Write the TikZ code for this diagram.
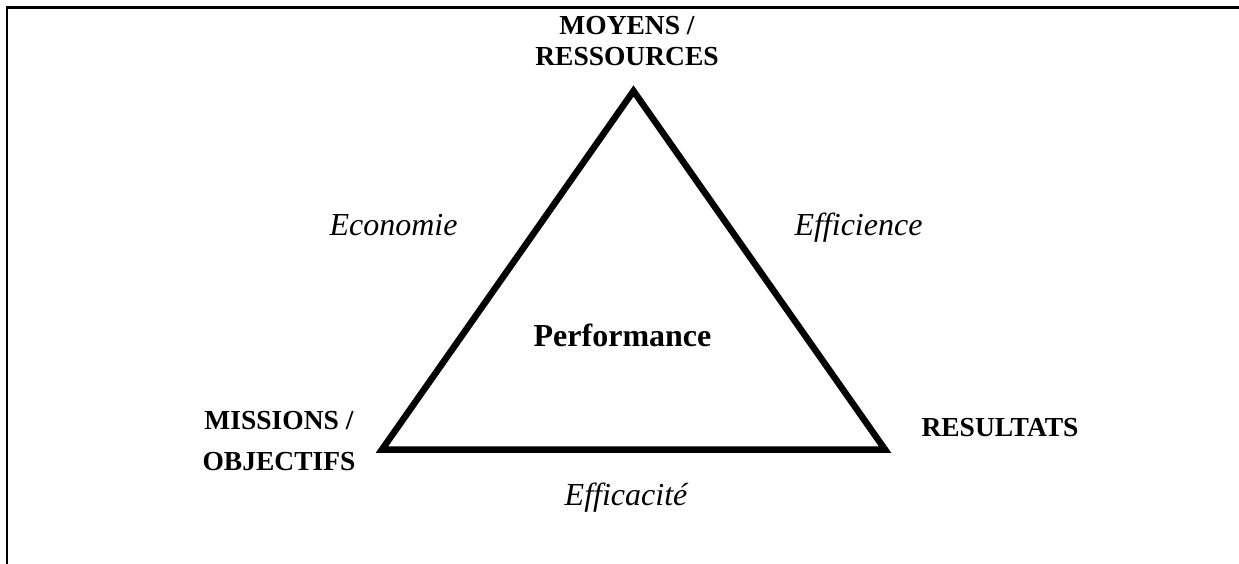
\documentclass[tikz,border=0pt]{standalone}
\usepackage{fontspec}
\setmainfont{Liberation Serif}
\begin{document}
\begin{tikzpicture}[x=1pt,y=-1pt,
  vlabel/.style={inner sep=0pt,anchor=base,align=center,
    font=\bfseries\fontsize{27.5}{31}\selectfont},
  relabel/.style={inner sep=0pt,anchor=base,
    font=\itshape\fontsize{32}{38}\selectfont},
  centre/.style={inner sep=0pt,anchor=base,
    font=\bfseries\fontsize{32}{38}\selectfont},
  frame/.style={line width=2.4pt},
  tri/.style={line width=6.5pt,line join=miter}]
\useasboundingbox (0,0) rectangle (1239,564);
% frame
\coordinate (fb) at (7,564);
\coordinate (fc) at (7,7.5);
\coordinate (fr) at (1239,7.5);
\draw[frame] (fb) -- (fc) -- (fr);
% triangle
\coordinate (A) at (633.5,91);
\coordinate (B) at (382,449.5);
\coordinate (C) at (885,449.5);
\draw[tri] (A) -- (B) -- (C) -- cycle;
% vertex labels (base = last line)
\node[vlabel] (moy) at (627,66) {MOYENS /\\RESSOURCES};
\node[vlabel] (mis) at (279,470) {MISSIONS /\\[10pt]OBJECTIFS};
\node[vlabel] (res) at (1000,436) {RESULTATS};
% side labels
\node[relabel] (eco) at (393.5,235) {Economie};
\node[relabel] (eff) at (858.5,235) {Efficience};
\node[relabel] (efc) at (626,505) {Efficacité};
\node[centre] (perf) at (622.5,346) {Performance};
\end{tikzpicture}
\end{document}
